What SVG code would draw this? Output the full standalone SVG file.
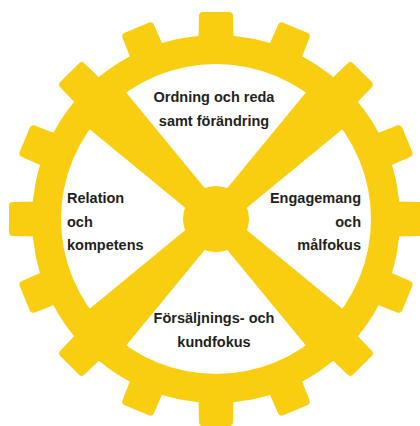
<svg xmlns="http://www.w3.org/2000/svg" xmlns:xlink="http://www.w3.org/1999/xlink" width="420" height="426" viewBox="0 0 420 426">
  <style>
    .y { fill: #F9CD10; }
    .w { fill: #FFFFFF; }
    .t { font-family: "Liberation Sans", Arial, sans-serif; font-weight: bold; font-size: 14.5px; fill: #231F20; }
    .c { text-anchor: middle; }
    .r { text-anchor: end; }
  </style>
  <defs>
    <path id="tooth" d="M176,-18 L178,-17.5 L203,-17 Q207,-17 207,-13 L207,13 Q207,17 203,17 L178,17.5 L176,18 Z"/>
    <polygon id="spoke" points="-172,-27.7 0,-11 172,-27.7 172,27.7 0,11 -172,27.7"/>
  </defs>
  <rect width="420" height="426" fill="#FFFFFF"/>
  <g id="gear" class="y" transform="translate(216,219)">
    <circle r="184"/>
    <use xlink:href="#tooth" transform="rotate(0)"/>
    <use xlink:href="#tooth" transform="rotate(22.5)"/>
    <use xlink:href="#tooth" transform="rotate(45)"/>
    <use xlink:href="#tooth" transform="rotate(67.5)"/>
    <use xlink:href="#tooth" transform="rotate(90)"/>
    <use xlink:href="#tooth" transform="rotate(112.5)"/>
    <use xlink:href="#tooth" transform="rotate(135)"/>
    <use xlink:href="#tooth" transform="rotate(157.5)"/>
    <use xlink:href="#tooth" transform="rotate(180)"/>
    <use xlink:href="#tooth" transform="rotate(202.5)"/>
    <use xlink:href="#tooth" transform="rotate(225)"/>
    <use xlink:href="#tooth" transform="rotate(247.5)"/>
    <use xlink:href="#tooth" transform="rotate(270)"/>
    <use xlink:href="#tooth" transform="rotate(292.5)"/>
    <use xlink:href="#tooth" transform="rotate(315)"/>
    <use xlink:href="#tooth" transform="rotate(337.5)"/>
    <circle class="w" r="155"/>
  </g>
  <g id="spokes" class="y" transform="translate(216,219)">
    <use xlink:href="#spoke" transform="rotate(45)"/>
    <use xlink:href="#spoke" transform="rotate(-45)"/>
    <circle id="hub" r="33"/>
  </g>
  <g id="top">
    <text class="t c" x="214" y="102">Ordning och reda</text>
    <text class="t c" x="214" y="126">samt förändring</text>
  </g>
  <g id="left">
    <text class="t" x="67" y="203">Relation</text>
    <text class="t" x="67" y="227">och</text>
    <text class="t" x="67" y="250">kompetens</text>
  </g>
  <g id="right">
    <text class="t r" x="361" y="203">Engagemang</text>
    <text class="t r" x="361" y="227">och</text>
    <text class="t r" x="361" y="250">målfokus</text>
  </g>
  <g id="bottom">
    <text class="t c" x="214" y="323">Försäljnings- och</text>
    <text class="t c" x="214" y="347">kundfokus</text>
  </g>
</svg>
